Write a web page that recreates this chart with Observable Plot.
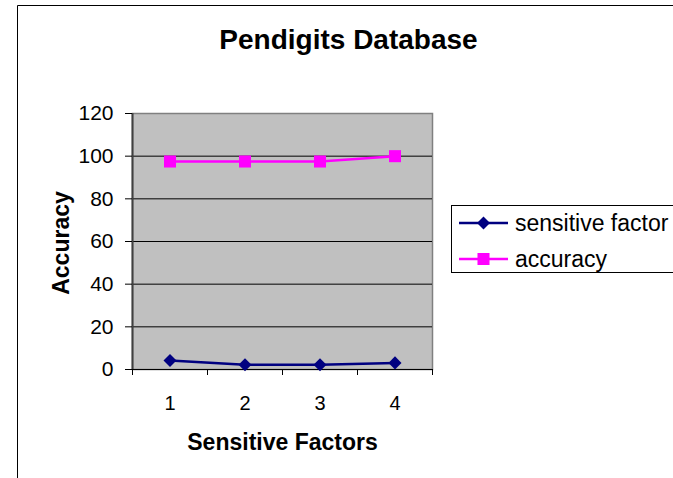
<!DOCTYPE html>
<html>
<head>
<meta charset="utf-8">
<script src="https://cdn.jsdelivr.net/npm/d3@7"></script>
<script src="https://cdn.jsdelivr.net/npm/@observablehq/plot@0.6"></script>
<style>
  html, body { margin: 0; padding: 0; background: #fff; }
  #chart svg { display: block; }
</style>
</head>
<body>
<div id="chart"></div>
<script>
const categories = [1, 2, 3, 4];
const sensitiveFactor = [4.2, 2.2, 2.2, 3.1];
const accuracy = [97.5, 97.5, 97.5, 100];
const yTicks = [0, 20, 40, 60, 80, 100, 120];
const gridLines = [20, 40, 60, 80, 100];
const xBoundaries = [0.5, 1.5, 2.5, 3.5, 4.5];
const seriesNames = ["sensitive factor", "accuracy"];
const seriesColors = ["#000080", "#FF00FF"];

const sfData = categories.map((c, i) => ({x: c, y: sensitiveFactor[i]}));
const accData = categories.map((c, i) => ({x: c, y: accuracy[i]}));

const font = "'Liberation Sans', Arial, sans-serif";

const chart = Plot.plot({
  width: 673,
  height: 478,
  marginLeft: 132,
  marginRight: 241,
  marginTop: 113,
  marginBottom: 109,
  style: {fontFamily: font, background: "white"},
  x: {domain: [0.5, 4.5]},
  y: {domain: [0, 120]},
  marks: [
    Plot.frame({fill: "#C0C0C0", stroke: "#808080", strokeWidth: 1.5}),
    Plot.ruleY(gridLines, {stroke: "black", strokeWidth: 1}),
    Plot.ruleX([0.5], {stroke: "#404040", strokeWidth: 2}),
    Plot.ruleY([0], {stroke: "black", strokeWidth: 1}),
    Plot.axisY({ticks: yTicks, tickSize: 7, tickPadding: 12, fontSize: 21, fill: "black", stroke: "black", label: null}),
    Plot.axisX({ticks: xBoundaries, tickSize: 6, tickFormat: () => "", label: null, stroke: "black"}),
    Plot.axisX({ticks: categories, tickSize: 0, tickPadding: 26, fontSize: 20, fill: "black", label: null, tickFormat: d => String(d)}),
    Plot.line(sfData, {x: "x", y: "y", stroke: seriesColors[0], strokeWidth: 2.5}),
    Plot.line(accData, {x: "x", y: "y", stroke: seriesColors[1], strokeWidth: 2.5}),
    Plot.dot(sfData, {x: "x", y: "y", symbol: "square", r: 5.2, rotate: 45, fill: seriesColors[0], stroke: "none"}),
    Plot.dot(accData, {x: "x", y: "y", symbol: "square", r: 6.8, fill: seriesColors[1], stroke: "none"}),
    Plot.text(["Pendigits Database"], {frameAnchor: "top", dx: 66, dy: -65, lineAnchor: "bottom", fontSize: 28, fontWeight: "bold", fill: "black", textAnchor: "middle"}),
    Plot.text(["Accuracy"], {frameAnchor: "left", dx: -64, dy: 1.5, lineAnchor: "bottom", rotate: -90, fontSize: 23, fontWeight: "bold", fill: "black", textAnchor: "middle"}),
    Plot.text(["Sensitive Factors"], {frameAnchor: "bottom", dy: 80, lineAnchor: "bottom", fontSize: 23, fontWeight: "bold", fill: "black", textAnchor: "middle"})
  ]
});

document.getElementById("chart").appendChild(chart);

// Outer chart border and legend
const svg = d3.select(chart);
svg.append("path")
  .attr("d", "M17.5,478 L17.5,5.5 L673,5.5")
  .attr("fill", "none").attr("stroke", "black").attr("stroke-width", 1);

const lg = svg.append("g").attr("text-anchor", "start");
lg.append("rect").attr("x", 451.5).attr("y", 205.5).attr("width", 240).attr("height", 67)
  .attr("fill", "white").attr("stroke", "black").attr("stroke-width", 1);
seriesNames.forEach((name, i) => {
  const y = 223 + i * 36;
  lg.append("line").attr("x1", 459).attr("x2", 508).attr("y1", y).attr("y2", y)
    .attr("stroke", seriesColors[i]).attr("stroke-width", 2.5);
  if (i === 0) {
    lg.append("path").attr("d", d3.symbol(d3.symbolSquare, 85)())
      .attr("transform", `translate(483.5,${y}) rotate(45)`).attr("fill", seriesColors[i]);
  } else {
    lg.append("path").attr("d", d3.symbol(d3.symbolSquare, 145)())
      .attr("transform", `translate(483.5,${y})`).attr("fill", seriesColors[i]);
  }
  lg.append("text").attr("x", 515).attr("y", y).attr("dy", "0.35em")
    .attr("font-size", 23).attr("font-family", font).attr("fill", "black").text(name);
});
</script>
</body>
</html>
